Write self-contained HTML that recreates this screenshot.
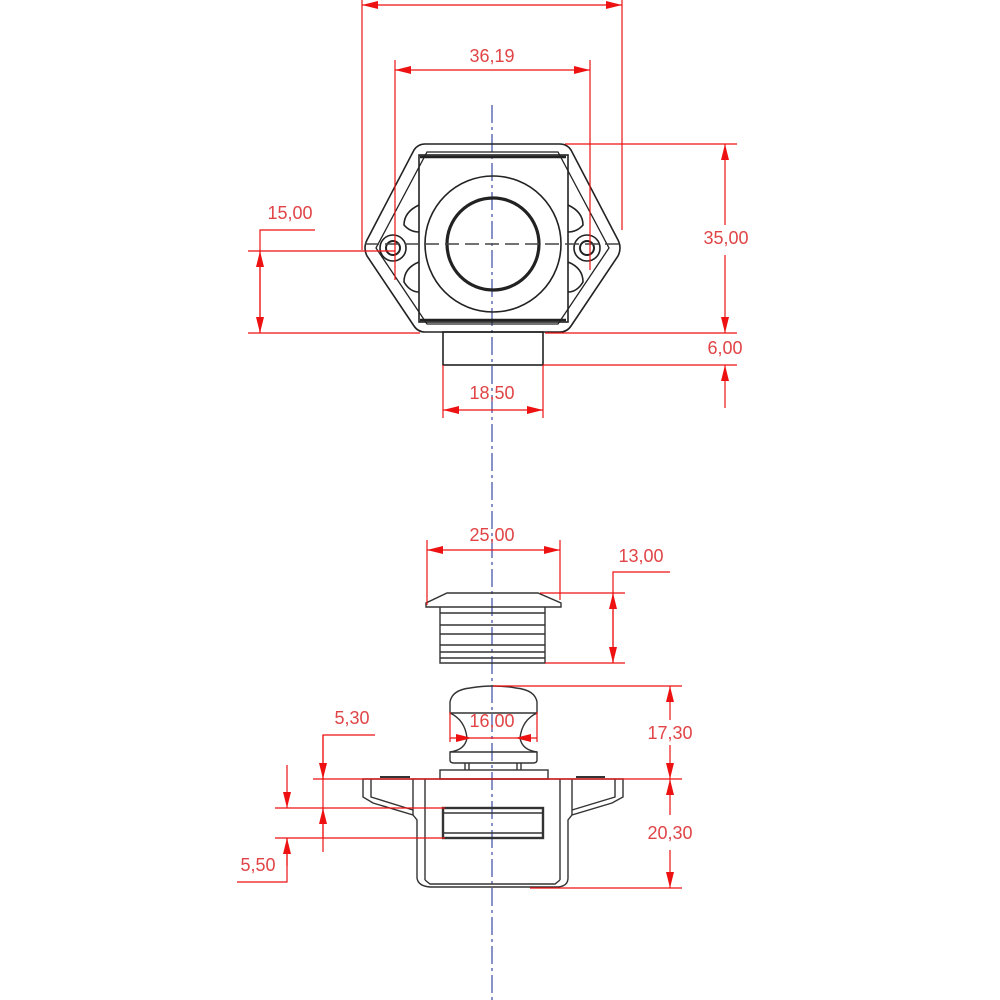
<!DOCTYPE html>
<html><head><meta charset="utf-8"><style>
html,body{margin:0;padding:0;background:#fff;}
svg{display:block;}
text{font-family:"Liberation Sans",sans-serif;font-size:18px;fill:#e04446;text-anchor:middle;}
</style></head><body>
<svg width="1000" height="1000" viewBox="0 0 1000 1000" xmlns="http://www.w3.org/2000/svg">
<defs>
<marker id="a" viewBox="0 0 16 8" refX="16" refY="4" markerWidth="16" markerHeight="8" markerUnits="userSpaceOnUse" orient="auto-start-reverse"><path d="M0,0 L16,4 L0,8z" fill="#ee1111"/></marker>
</defs>
<line x1="492" y1="105" x2="492" y2="1000" stroke="#3a4aa0" stroke-width="1.2" stroke-dasharray="18,4,3,4"/>

<g fill="none" stroke="#222" stroke-width="1.6">
<path d="M425,144 L560,144 Q567,144 571,150 L618,240 Q622,248 618,256 L571,326 Q567,332 560,332 L425,332 Q418,332 414,326 L367,256 Q363,248 367,240 L414,150 Q418,144 425,144Z"/>
<path d="M427,152 L558,152 L609,248 L558,324 L427,324 L376,248Z" stroke-width="1.3"/>
<rect x="419" y="155" width="149" height="167" stroke-width="1.6"/>
<line x1="420" y1="157" x2="566" y2="157" stroke-width="2.5"/>
<line x1="420" y1="320" x2="566" y2="320" stroke-width="2.5"/>
<circle cx="493" cy="244" r="68"/>
<circle cx="493" cy="244" r="46" stroke-width="3.2"/>
<circle cx="393" cy="248" r="13"/><circle cx="393" cy="248" r="7" stroke-width="2"/>
<circle cx="587" cy="248" r="13"/><circle cx="587" cy="248" r="7" stroke-width="2"/>
<path d="M419,205 Q404,212 404,225 Q410,232 419,232"/>
<path d="M419,262 Q404,268 404,282 Q410,292 419,292"/>
<path d="M568,205 Q583,212 583,225 Q577,232 568,232"/>
<path d="M568,262 Q583,268 583,282 Q577,292 568,292"/>
<rect x="443" y="332" width="100" height="33"/>
</g>
<line x1="365" y1="244" x2="620" y2="244" stroke="#444" stroke-width="1.4" stroke-dasharray="14,6"/>

<g stroke="#ee1111" stroke-width="1.2" fill="none">
<line x1="362" y1="0" x2="362" y2="250"/>
<line x1="622" y1="0" x2="622" y2="230"/>
<line x1="362" y1="5" x2="622" y2="5" marker-start="url(#a)" marker-end="url(#a)"/>
<line x1="395" y1="60" x2="395" y2="280"/>
<line x1="590" y1="60" x2="590" y2="270"/>
<line x1="395" y1="70" x2="590" y2="70" marker-start="url(#a)" marker-end="url(#a)"/>
<line x1="248" y1="251" x2="395" y2="251"/>
<line x1="248" y1="333" x2="420" y2="333"/>
<polyline points="315,230 260,230 260,333"/>
<line x1="260" y1="251" x2="260" y2="333" marker-start="url(#a)" marker-end="url(#a)"/>
<line x1="565" y1="144" x2="737" y2="144"/>
<line x1="545" y1="333" x2="737" y2="333"/>
<line x1="543" y1="365" x2="737" y2="365"/>
<line x1="725" y1="144" x2="725" y2="225" marker-start="url(#a)"/>
<line x1="725" y1="255" x2="725" y2="333" marker-end="url(#a)"/>
<line x1="725" y1="408" x2="725" y2="365" marker-end="url(#a)"/>
<line x1="443" y1="365" x2="443" y2="418"/>
<line x1="543" y1="365" x2="543" y2="418"/>
<line x1="443" y1="410" x2="543" y2="410" marker-start="url(#a)" marker-end="url(#a)"/>
</g>
<text x="492" y="62">36,19</text>
<text x="290" y="219">15,00</text>
<text x="726" y="244">35,00</text>
<text x="725" y="354">6,00</text>
<text x="492" y="399">18,50</text>

<g fill="none" stroke="#333" stroke-width="1.4">
<path d="M447,593 L538,593 L561,603 L561,607 L426,607 L426,603Z"/>
<path d="M440,607 L440,663 L545,663 L545,607"/>
<line x1="440" y1="613" x2="545" y2="613"/>
<line x1="440" y1="625" x2="545" y2="625"/>
<line x1="440" y1="634" x2="545" y2="634"/>
<line x1="440" y1="645" x2="545" y2="645"/>
<line x1="440" y1="652" x2="545" y2="652"/>
<line x1="440" y1="658" x2="545" y2="658"/>
<path d="M450,702 Q452,690 470,688 Q493,684 516,688 Q535,690 537,702 L537,713 Q522,720 520,738 Q522,750 537,752 L537,760 Q537,763 533,763 L454,763 Q450,763 450,760 L450,752 Q465,750 467,738 Q465,720 450,713Z"/>
<line x1="450" y1="713" x2="537" y2="713"/>
<line x1="450" y1="752" x2="537" y2="752"/>
<line x1="465" y1="763" x2="465" y2="770"/><line x1="469" y1="763" x2="469" y2="770"/>
<line x1="517" y1="763" x2="517" y2="770"/><line x1="521" y1="763" x2="521" y2="770"/>
<rect x="440" y="770" width="108" height="9"/>
<path d="M363,779 L623,779 L623,797 L612,803 L572,815 L568,820 L568,878 Q568,886 558,887 L430,887 Q418,886 417,878 L417,820 L413,815 L373,803 L363,797Z"/>
<path d="M371,779 L371,797 L413,810"/>
<path d="M615,779 L615,797 L572,810"/>
<line x1="413" y1="779" x2="413" y2="815"/><line x1="425" y1="779" x2="425" y2="818"/>
<line x1="560" y1="779" x2="560" y2="818"/><line x1="572" y1="779" x2="572" y2="815"/>
<line x1="425" y1="818" x2="425" y2="880"/><line x1="560" y1="818" x2="560" y2="880"/>
<path d="M425,880 L430,884 L555,884 L560,880"/>
<line x1="380" y1="777" x2="410" y2="777" stroke-width="2"/>
<line x1="576" y1="777" x2="605" y2="777" stroke-width="2"/>
<rect x="443" y="808" width="100" height="30" stroke-width="2.4"/>
<line x1="443" y1="813" x2="543" y2="813"/>
<line x1="443" y1="833" x2="543" y2="833"/>
</g>

<g stroke="#ee1111" stroke-width="1.2" fill="none">
<line x1="427" y1="540" x2="427" y2="605"/>
<line x1="560" y1="540" x2="560" y2="600"/>
<line x1="427" y1="550" x2="560" y2="550" marker-start="url(#a)" marker-end="url(#a)"/>
<line x1="540" y1="593" x2="625" y2="593"/>
<line x1="545" y1="663" x2="625" y2="663"/>
<polyline points="670,572 613,572 613,663"/>
<line x1="613" y1="593" x2="613" y2="663" marker-start="url(#a)" marker-end="url(#a)"/>
<line x1="493" y1="686" x2="682" y2="686"/>
<line x1="313" y1="779" x2="682" y2="779"/>
<line x1="530" y1="888" x2="682" y2="888"/>
<line x1="670" y1="686" x2="670" y2="720" marker-start="url(#a)"/>
<line x1="670" y1="745" x2="670" y2="779" marker-end="url(#a)"/>
<line x1="670" y1="779" x2="670" y2="815" marker-start="url(#a)"/>
<line x1="670" y1="850" x2="670" y2="888" marker-end="url(#a)"/>
<line x1="450" y1="712" x2="450" y2="742"/>
<line x1="537" y1="712" x2="537" y2="742"/>
<line x1="450" y1="738" x2="472" y2="738" marker-end="url(#a)"/>
<line x1="537" y1="738" x2="515" y2="738" marker-end="url(#a)"/>
<line x1="472" y1="738" x2="515" y2="738"/>
<line x1="275" y1="808" x2="445" y2="808"/>
<line x1="275" y1="838" x2="445" y2="838"/>
<polyline points="375,735 323,735 323,852"/>
<line x1="323" y1="735" x2="323" y2="779" marker-end="url(#a)"/>
<line x1="323" y1="838" x2="323" y2="808" marker-end="url(#a)"/>
<line x1="287" y1="765" x2="287" y2="808" marker-end="url(#a)"/>
<polyline points="237,882 287,882 287,838"/>
<line x1="287" y1="866" x2="287" y2="838" marker-end="url(#a)"/>
</g>
<text x="492" y="541">25,00</text>
<text x="641" y="562">13,00</text>
<text x="492" y="727">16,00</text>
<text x="670" y="739">17,30</text>
<text x="670" y="839">20,30</text>
<text x="352" y="724">5,30</text>
<text x="258" y="871">5,50</text>
</svg>
</body></html>
